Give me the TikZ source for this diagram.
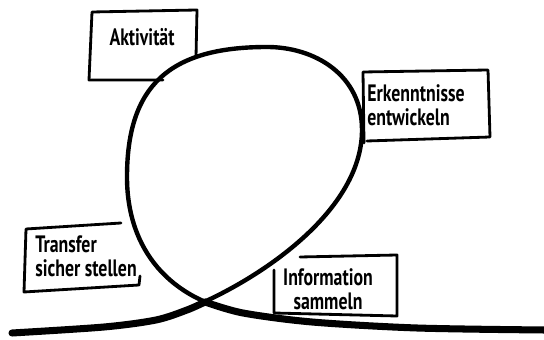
\documentclass[tikz,border=0pt]{standalone}
\usepackage{fontspec}
\setmainfont[FakeStretch=0.75]{PT Sans}
\usepackage{tikz}

\begin{document}
\begin{tikzpicture}[x=0.02cm,y=-0.02cm,line cap=round,line join=round,
  lbl/.style={inner sep=0pt,font=\bfseries\fontsize{13.5}{13.5}\selectfont},
  box/.style={line width=1.6pt},
  loopline/.style={line width=2.5pt},
  baseline/.style={line width=4pt}]
\useasboundingbox (0,0) rectangle (544,340);
% boxes
\draw[box] (163,80) -- (89,80) -- (92,12) -- (197,10) -- (196,57);
\draw[box] (367,141) -- (490,137) -- (488,70) -- (363,72) -- (364,143);
\draw[box] (121,223) -- (26,229) -- (24,292) -- (139,285) -- (140,276);
\draw[box] (300,257) -- (397,255) -- (397,316) -- (274,313) -- (274,270);
% labels
\node[lbl] (akt) at (142,37) {Aktivität};
\node[lbl,anchor=west,align=left] (erk) at (367,105) {Erkenntnisse\\entwickeln};
\node[lbl,anchor=west,align=left] (trans) at (35,256) {Transfer\\sicher stellen};
\node[lbl,align=center] (info) at (328,289) {Information\\sammeln};
% loop
\draw[baseline] plot[smooth] coordinates {(12,333) (104,327) (156,320) (187,310) (205,302)};
\draw[loopline] (185,310) .. controls (250,285) and (362,215) .. (362,130)
  .. controls (362,75) and (315,47) .. (267,47)
  .. controls (169,47) and (127,86) .. (127,177)
  .. controls (127,250) and (170,300) .. (243,313);
\draw[baseline] plot[smooth] coordinates {(205,302) (243,313) (312,322) (417,328) (544,330)};
\end{tikzpicture}
\end{document}
